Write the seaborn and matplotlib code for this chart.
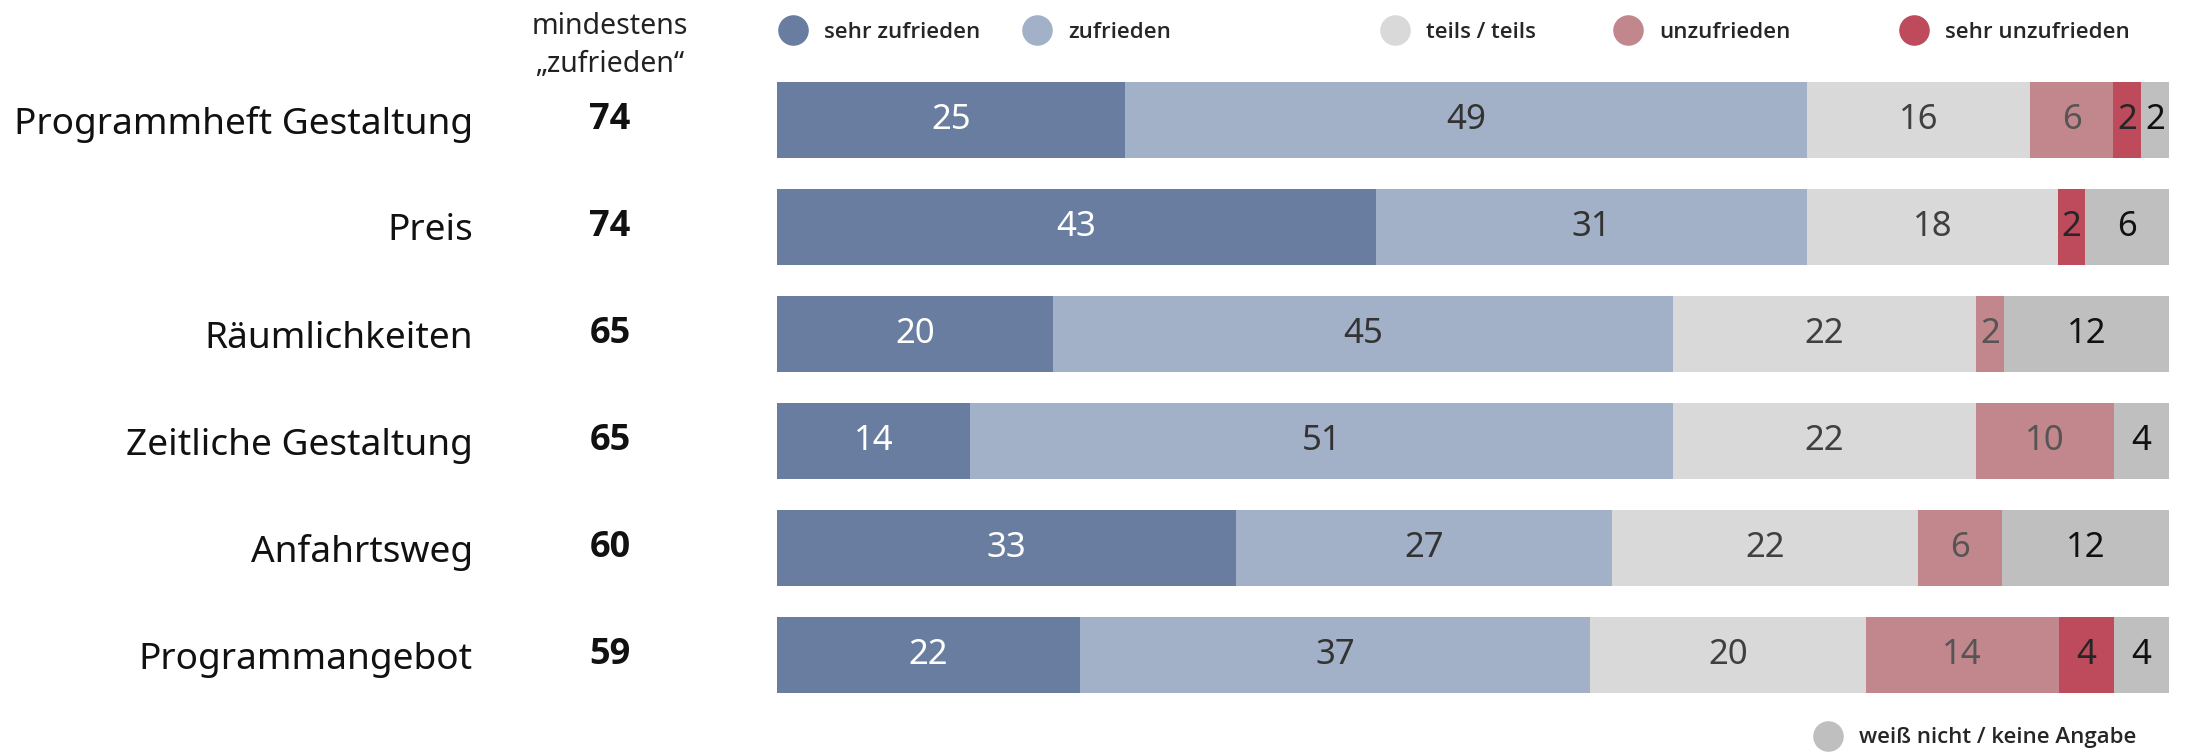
import numpy as np
import pandas as pd
import seaborn as sns
import matplotlib.pyplot as plt
import matplotlib.transforms as mtransforms
from matplotlib.lines import Line2D


# Data

items = ['Programmheft Gestaltung', 'Preis', 'Räumlichkeiten',
         'Zeitliche Gestaltung', 'Anfahrtsweg', 'Programmangebot']

sehr_zufrieden = [25, 43, 20, 14, 33, 22]
zufrieden = [49, 31, 45, 51, 27, 37]
teils_teils = [16, 18, 22, 22, 22, 20]
unzufrieden = [6, 0, 2, 10, 6, 14]
sehr_unzufrieden = [2, 2, 0, 0, 0, 4]
weiss_nicht = [2, 6, 12, 4, 12, 4]

mindestens_zufrieden = [74, 74, 65, 65, 60, 59]

categories = ['sehr zufrieden', 'zufrieden', 'teils / teils', 'unzufrieden',
              'sehr unzufrieden', 'weiß nicht / keine Angabe']


# Styles

colors = ['#687d9f', '#a3b1c8', '#d9d9d9', '#c2878d', '#bd4b5b', '#bfbfbf']
text_colors = ['white', '#333333', '#404040', '#555555', '#262626', '#111111']

sns.set_style('white')
plt.rcParams['font.family'] = ['Noto Sans', 'DejaVu Sans']


# Build table (shares per row so each bar fills the full width)

df = pd.DataFrame({
    'item': items,
    'sehr zufrieden': sehr_zufrieden,
    'zufrieden': zufrieden,
    'teils / teils': teils_teils,
    'unzufrieden': unzufrieden,
    'sehr unzufrieden': sehr_unzufrieden,
    'weiß nicht / keine Angabe': weiss_nicht,
})

values = df[categories]
shares = values.div(values.sum(axis=1), axis=0) * 100
cum = shares.cumsum(axis=1)


# Plot

fig = plt.figure(figsize=(21.88, 7.54), dpi=100)
ax = fig.add_axes([777 / 2188, 1 - 708.5 / 754, 1392 / 2188, 642 / 754])

for k in range(len(categories) - 1, -1, -1):
    sns.barplot(x=cum[categories[k]], y=df['item'], color=colors[k],
                saturation=1, width=0.71, linewidth=0, orient='h', ax=ax)

for i in range(len(items)):
    for k, cat in enumerate(categories):
        v = values.iloc[i][cat]
        if v == 0:
            continue
        left = cum.iloc[i][cat] - shares.iloc[i][cat]
        ax.text(left + shares.iloc[i][cat] / 2, i, str(v),
                ha='center', va='center', fontsize=25, color=text_colors[k])

ax.set_xlim(0, 100)
ax.set_ylim(5.5, -0.5)
ax.set_xlabel('')
ax.set_ylabel('')
ax.set_xticks([])
ax.tick_params(axis='y', length=0, pad=219, labelsize=26.7, labelcolor='#111111')
sns.despine(ax=ax, left=True, bottom=True)

# "mindestens zufrieden" column
trans = mtransforms.blended_transform_factory(ax.transAxes, ax.transData)
for i, m in enumerate(mindestens_zufrieden):
    ax.text((610 - 777) / 1392, i, str(m), transform=trans,
            ha='center', va='center', fontsize=26, fontweight='bold',
            family=['Open Sans', 'DejaVu Sans'], color='#111111')

fig.text(610 / 2188, 1 - 26 / 754, 'mindestens', ha='center', va='center',
         fontsize=20.5, color='#222222')
fig.text(610 / 2188, 1 - 65 / 754, '\u201ezufrieden\u201c', ha='center',
         va='center', fontsize=20.5, color='#222222')


# Legend

legend_x = [793, 1037, 1395, 1628, 1914, 1828]
legend_y = [32, 32, 32, 32, 32, 738]

for k, cat in enumerate(categories):
    handle = Line2D([], [], marker='o', linestyle='', color=colors[k],
                    markersize=21)
    leg = fig.legend(handles=[handle], labels=[cat], loc='center left',
                     bbox_to_anchor=((legend_x[k] - 11) / 2188,
                                     1 - legend_y[k] / 754),
                     frameon=False, handlelength=1, handletextpad=0.9,
                     borderpad=0, borderaxespad=0,
                     prop={'size': 16, 'weight': 'semibold',
                           'family': ['Open Sans', 'DejaVu Sans']})

fig.savefig('out.png', dpi=100)
